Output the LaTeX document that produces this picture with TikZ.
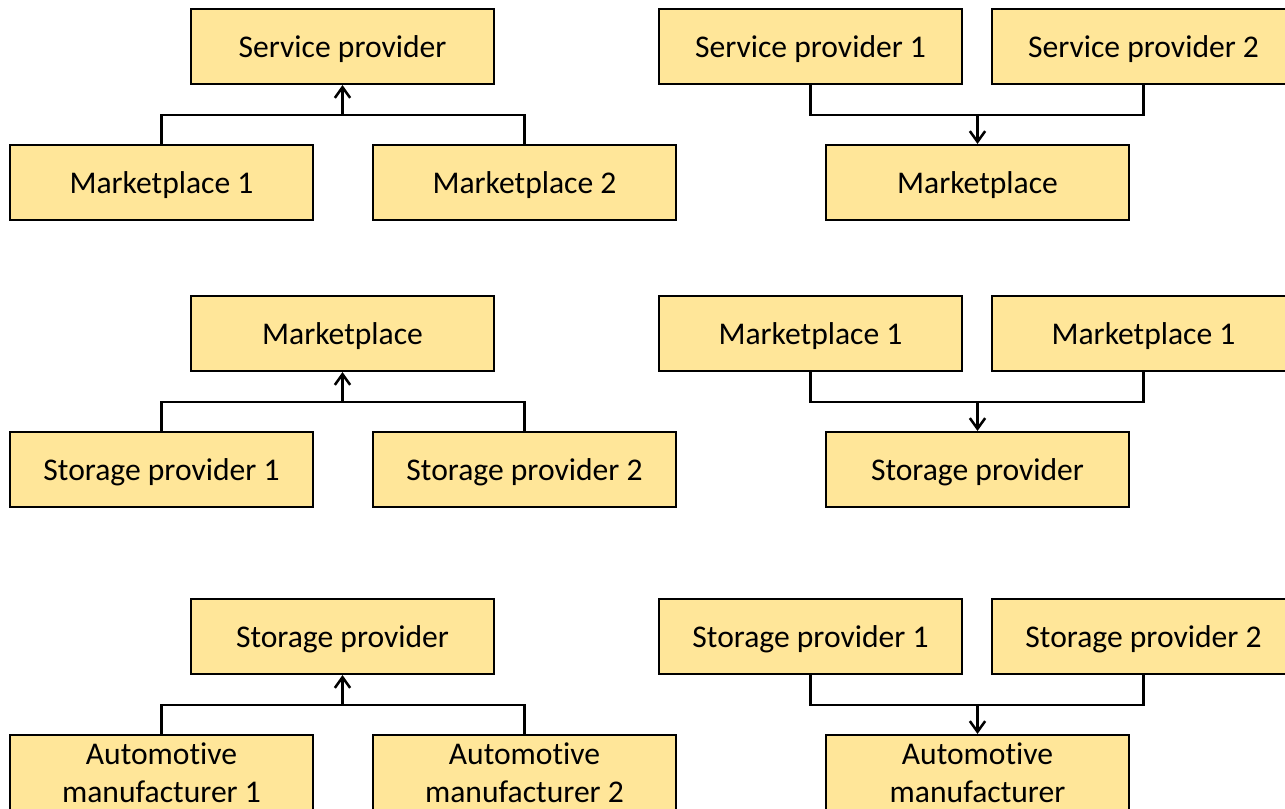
\documentclass[tikz,border=0pt]{standalone}
\usepackage{fontspec}
\setmainfont{Carlito}[Ligatures=CommonOff]
\usepackage{tikz}
\usetikzlibrary{arrows.meta}
\definecolor{boxfill}{HTML}{FFE699}
\definecolor{edge}{HTML}{000000}
\tikzset{
  box/.style={draw=edge, fill=boxfill, line width=1.6pt, minimum width=227.25pt,
    minimum height=56.25pt, inner sep=0pt, align=center,
    font=\fontsize{23.7}{28.5}\selectfont,
    execute at begin node={\rule{0pt}{21pt}}},
  link/.style={draw=edge, line width=1.9pt},
  arr/.style={link, -{Straight Barb[length=8pt,width=11.5pt,line width=1.9pt]}},
}
\begin{document}
\begin{tikzpicture}[x=0.75pt, y=-0.75pt]
  \useasboundingbox (0,0) rectangle (1285,809);

  % row 1
  \node[box] (sp)   at (342.5,46.5)  {Service provider};
  \node[box] (mpa)  at (161.5,182.5) {Marketplace 1};
  \node[box] (mpb)  at (524.5,182.5) {Marketplace 2};
  \coordinate (j1) at (342.5,115);
  \draw[link] (mpa.north) |- (j1) -| (mpb.north);
  \draw[arr] (j1) -- (sp.south);

  \node[box] (spa)  at (810.5,46.5)  {Service provider 1};
  \node[box] (spb)  at (1143.5,46.5) {Service provider 2};
  \node[box] (mp)   at (977.5,182.5) {Marketplace};
  \coordinate (k1) at (977.5,115);
  \draw[link] (spa.south) |- (k1) -| (spb.south);
  \draw[arr] (k1) -- (mp.north);

  % row 2
  \node[box] (mq)   at (342.5,333.5) {Marketplace};
  \node[box] (sta)  at (161.5,469.5) {Storage provider 1};
  \node[box] (stb)  at (524.5,469.5) {Storage provider 2};
  \coordinate (j2) at (342.5,402);
  \draw[link] (sta.north) |- (j2) -| (stb.north);
  \draw[arr] (j2) -- (mq.south);

  \node[box] (mqa)  at (810.5,333.5)  {Marketplace 1};
  \node[box] (mqb)  at (1143.5,333.5) {Marketplace 1};
  \node[box] (st)   at (977.5,469.5)  {Storage provider};
  \coordinate (k2) at (977.5,402);
  \draw[link] (mqa.south) |- (k2) -| (mqb.south);
  \draw[arr] (k2) -- (st.north);

  % row 3
  \node[box] (su)   at (342.5,636.5) {Storage provider};
  \node[box] (ama)  at (161.5,772.5) {Automotive\\manufacturer 1};
  \node[box] (amb)  at (524.5,772.5) {Automotive\\manufacturer 2};
  \coordinate (j3) at (342.5,705);
  \draw[link] (ama.north) |- (j3) -| (amb.north);
  \draw[arr] (j3) -- (su.south);

  \node[box] (sua)  at (810.5,636.5)  {Storage provider 1};
  \node[box] (sub)  at (1143.5,636.5) {Storage provider 2};
  \node[box] (am)   at (977.5,772.5)  {Automotive\\manufacturer};
  \coordinate (k3) at (977.5,705);
  \draw[link] (sua.south) |- (k3) -| (sub.south);
  \draw[arr] (k3) -- (am.north);
\end{tikzpicture}
\end{document}
